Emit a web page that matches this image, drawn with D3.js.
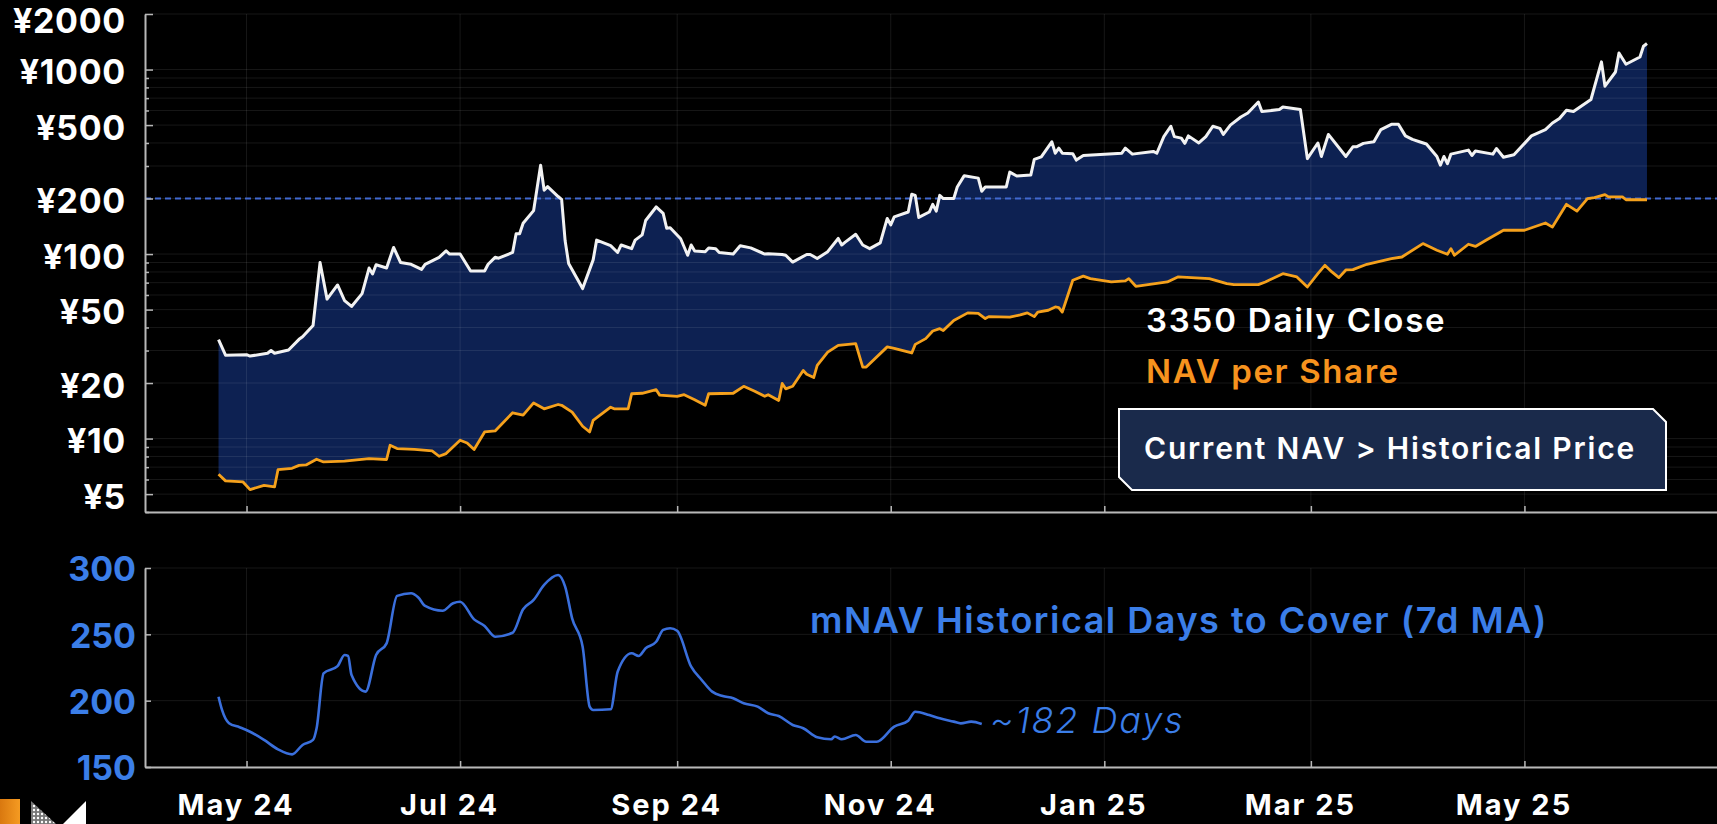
<!DOCTYPE html>
<html>
<head>
<meta charset="utf-8">
<script src="https://cdn.jsdelivr.net/npm/d3@7"></script>
<style>
  html, body { margin: 0; padding: 0; background: #000; overflow: hidden; }
  svg { display: block; }
  text { font-family: Inter, "Noto Sans", sans-serif; }
</style>
</head>
<body>
<svg id="chart" width="1717" height="824"></svg>
<script>
// Data

const closeSeries = [
  ['2024-04-23', 34.4], ['2024-04-25', 28.3], ['2024-05-01', 28.5], ['2024-05-02', 28],
  ['2024-05-07', 29], ['2024-05-08', 30], ['2024-05-09', 29], ['2024-05-13', 30.2],
  ['2024-05-16', 34.5], ['2024-05-17', 35.6], ['2024-05-20', 41], ['2024-05-22', 90],
  ['2024-05-24', 57], ['2024-05-27', 68], ['2024-05-29', 56], ['2024-05-31', 52],
  ['2024-06-03', 61], ['2024-06-05', 84], ['2024-06-06', 78], ['2024-06-07', 87.5],
  ['2024-06-10', 84], ['2024-06-12', 108.6], ['2024-06-14', 90], ['2024-06-17', 88],
  ['2024-06-20', 82.6], ['2024-06-21', 88], ['2024-06-25', 96], ['2024-06-27', 104],
  ['2024-06-28', 100], ['2024-07-01', 100], ['2024-07-04', 81], ['2024-07-08', 81],
  ['2024-07-09', 88], ['2024-07-11', 96], ['2024-07-12', 95], ['2024-07-16', 102],
  ['2024-07-17', 129], ['2024-07-18', 129], ['2024-07-19', 147], ['2024-07-22', 172],
  ['2024-07-24', 303], ['2024-07-25', 222], ['2024-07-26', 232], ['2024-07-29', 205],
  ['2024-07-30', 198], ['2024-07-31', 118], ['2024-08-01', 89], ['2024-08-05', 65],
  ['2024-08-08', 93], ['2024-08-09', 119], ['2024-08-13', 111], ['2024-08-15', 102],
  ['2024-08-16', 112], ['2024-08-19', 107], ['2024-08-20', 119], ['2024-08-22', 127],
  ['2024-08-23', 152], ['2024-08-26', 180], ['2024-08-28', 166], ['2024-08-29', 138],
  ['2024-08-30', 139], ['2024-09-02', 121], ['2024-09-04', 98.5], ['2024-09-05', 112],
  ['2024-09-06', 104], ['2024-09-09', 103], ['2024-09-10', 108], ['2024-09-12', 107],
  ['2024-09-13', 102], ['2024-09-17', 100], ['2024-09-19', 111], ['2024-09-22', 108],
  ['2024-09-26', 100], ['2024-09-27', 100.5], ['2024-10-01', 99.5], ['2024-10-02', 98.5],
  ['2024-10-04', 90.5], ['2024-10-08', 99.5], ['2024-10-09', 99.5], ['2024-10-11', 94.6],
  ['2024-10-14', 103], ['2024-10-17', 121.5], ['2024-10-18', 112], ['2024-10-19', 116],
  ['2024-10-22', 128], ['2024-10-24', 112], ['2024-10-26', 107], ['2024-10-29', 115],
  ['2024-10-31', 156], ['2024-11-01', 144], ['2024-11-02', 159], ['2024-11-06', 169],
  ['2024-11-07', 211], ['2024-11-08', 208], ['2024-11-09', 158], ['2024-11-12', 169],
  ['2024-11-13', 186], ['2024-11-14', 171], ['2024-11-15', 208], ['2024-11-16', 200],
  ['2024-11-19', 200], ['2024-11-20', 231], ['2024-11-22', 266], ['2024-11-26', 258],
  ['2024-11-27', 219], ['2024-11-28', 231], ['2024-12-04', 231], ['2024-12-05', 278],
  ['2024-12-07', 265], ['2024-12-11', 268], ['2024-12-12', 326], ['2024-12-14', 336],
  ['2024-12-17', 406], ['2024-12-18', 352], ['2024-12-19', 375], ['2024-12-20', 352],
  ['2024-12-23', 350], ['2024-12-24', 323], ['2024-12-26', 342], ['2025-01-06', 352],
  ['2025-01-07', 375], ['2025-01-09', 348], ['2025-01-15', 360], ['2025-01-16', 352],
  ['2025-01-18', 433], ['2025-01-20', 493], ['2025-01-21', 433], ['2025-01-23', 425],
  ['2025-01-24', 398], ['2025-01-25', 437], ['2025-01-28', 400], ['2025-01-30', 433],
  ['2025-02-01', 493], ['2025-02-03', 480], ['2025-02-04', 445], ['2025-02-06', 500],
  ['2025-02-09', 553], ['2025-02-11', 582], ['2025-02-14', 667], ['2025-02-15', 592],
  ['2025-02-20', 607], ['2025-02-21', 627], ['2025-02-26', 607], ['2025-02-28', 329],
  ['2025-03-03', 400], ['2025-03-04', 338], ['2025-03-06', 445], ['2025-03-11', 338],
  ['2025-03-13', 381], ['2025-03-14', 381], ['2025-03-16', 398], ['2025-03-19', 406],
  ['2025-03-21', 473], ['2025-03-24', 505], ['2025-03-26', 505], ['2025-03-28', 437],
  ['2025-03-30', 418], ['2025-04-01', 406], ['2025-04-03', 395], ['2025-04-06', 338],
  ['2025-04-07', 303], ['2025-04-08', 338], ['2025-04-09', 309], ['2025-04-10', 348],
  ['2025-04-15', 366], ['2025-04-16', 342], ['2025-04-17', 362], ['2025-04-22', 348],
  ['2025-04-23', 373], ['2025-04-25', 335], ['2025-04-28', 345], ['2025-05-03', 437],
  ['2025-05-07', 472], ['2025-05-09', 513], ['2025-05-11', 543], ['2025-05-13', 602],
  ['2025-05-15', 592], ['2025-05-20', 688], ['2025-05-23', 1100], ['2025-05-24', 812],
  ['2025-05-27', 970], ['2025-05-28', 1230], ['2025-05-30', 1068], ['2025-06-03', 1170],
  ['2025-06-04', 1337], ['2025-06-05', 1384]
]

const navSeries = [
  ['2024-04-23', 6.4], ['2024-04-25', 5.9], ['2024-04-30', 5.82], ['2024-05-02', 5.29],
  ['2024-05-06', 5.58], ['2024-05-09', 5.47], ['2024-05-10', 6.79], ['2024-05-14', 6.9],
  ['2024-05-16', 7.16], ['2024-05-18', 7.2], ['2024-05-21', 7.73], ['2024-05-23', 7.47],
  ['2024-05-29', 7.55], ['2024-06-05', 7.79], ['2024-06-10', 7.7], ['2024-06-11', 9.2],
  ['2024-06-13', 8.83], ['2024-06-18', 8.75], ['2024-06-23', 8.57], ['2024-06-25', 8.02],
  ['2024-06-27', 8.29], ['2024-07-01', 9.8], ['2024-07-03', 9.47], ['2024-07-05', 8.72],
  ['2024-07-08', 10.86], ['2024-07-11', 11], ['2024-07-16', 13.8], ['2024-07-19', 13.4],
  ['2024-07-22', 15.6], ['2024-07-25', 14.5], ['2024-07-29', 15.3], ['2024-07-30', 15.15],
  ['2024-08-02', 13.9], ['2024-08-05', 11.66], ['2024-08-07', 10.86], ['2024-08-08', 12.56],
  ['2024-08-13', 14.8], ['2024-08-14', 14.5], ['2024-08-18', 14.5], ['2024-08-19', 17.5],
  ['2024-08-22', 17.6], ['2024-08-26', 18.4], ['2024-08-27', 17.2], ['2024-09-01', 16.95],
  ['2024-09-03', 17.3], ['2024-09-06', 16.25], ['2024-09-09', 15.15], ['2024-09-10', 17.5],
  ['2024-09-17', 17.6], ['2024-09-20', 19.2], ['2024-09-23', 18.1], ['2024-09-26', 16.95],
  ['2024-09-27', 17.3], ['2024-09-30', 16.1], ['2024-10-01', 19.9], ['2024-10-02', 18.6],
  ['2024-10-04', 19.2], ['2024-10-07', 23.4], ['2024-10-08', 22.3], ['2024-10-10', 21.4],
  ['2024-10-11', 24.9], ['2024-10-14', 29.4], ['2024-10-17', 32], ['2024-10-22', 32.7],
  ['2024-10-24', 24.4], ['2024-10-25', 24.4], ['2024-10-31', 31.4], ['2024-11-02', 30.8],
  ['2024-11-07', 29.1], ['2024-11-08', 32.4], ['2024-11-11', 34.8], ['2024-11-13', 38.3],
  ['2024-11-15', 39.4], ['2024-11-16', 38.5], ['2024-11-19', 43.7], ['2024-11-23', 48],
  ['2024-11-26', 47.7], ['2024-11-28', 44.7], ['2024-11-29', 45.8], ['2024-12-05', 45.5],
  ['2024-12-08', 46.8], ['2024-12-10', 48], ['2024-12-12', 45.8], ['2024-12-13', 48.5],
  ['2024-12-16', 49.6], ['2024-12-18', 51.7], ['2024-12-19', 51.3], ['2024-12-20', 48.5],
  ['2024-12-23', 72.1], ['2024-12-26', 75.9], ['2024-12-28', 73.6], ['2025-01-03', 70.6],
  ['2025-01-07', 71.5], ['2025-01-08', 73.6], ['2025-01-10', 66.9], ['2025-01-19', 70.6],
  ['2025-01-22', 75.2], ['2025-01-31', 73.6], ['2025-02-05', 69.2], ['2025-02-07', 68.3],
  ['2025-02-14', 68.3], ['2025-02-16', 70.6], ['2025-02-21', 78.3], ['2025-02-25', 75.2],
  ['2025-02-28', 66.3], ['2025-03-03', 78.3], ['2025-03-05', 86.9], ['2025-03-07', 80],
  ['2025-03-09', 74.5], ['2025-03-11', 82], ['2025-03-13', 82.4], ['2025-03-17', 88],
  ['2025-03-24', 94.5], ['2025-03-27', 96.4], ['2025-04-02', 114], ['2025-04-06', 104.9],
  ['2025-04-09', 99.7], ['2025-04-10', 107], ['2025-04-11', 98.5], ['2025-04-15', 113],
  ['2025-04-17', 110], ['2025-04-20', 118.8], ['2025-04-25', 134.6], ['2025-05-01', 134.6],
  ['2025-05-07', 147.4], ['2025-05-09', 140], ['2025-05-13', 186], ['2025-05-16', 171],
  ['2025-05-19', 199.6], ['2025-05-21', 202], ['2025-05-24', 210], ['2025-05-25', 204],
  ['2025-05-29', 204], ['2025-05-30', 197], ['2025-06-05', 197]
]

const daysSeries = [
  ['2024-04-23', 203], ['2024-04-24', 193], ['2024-04-26', 183], ['2024-04-29', 180],
  ['2024-05-02', 176.6], ['2024-05-06', 170.4], ['2024-05-10', 163.3], ['2024-05-14', 159.5],
  ['2024-05-17', 166.6], ['2024-05-20', 170.4], ['2024-05-21', 179], ['2024-05-23', 220.6],
  ['2024-05-27', 226], ['2024-05-29', 234.4], ['2024-05-30', 233.7], ['2024-05-31', 219.3],
  ['2024-06-04', 206.8], ['2024-06-07', 234.4], ['2024-06-10', 243.2], ['2024-06-13', 279],
  ['2024-06-17', 281], ['2024-06-19', 278], ['2024-06-21', 271.4], ['2024-06-26', 267.8],
  ['2024-06-29', 273.4], ['2024-07-01', 274.6], ['2024-07-05', 261.3], ['2024-07-08', 256.3],
  ['2024-07-11', 248.2], ['2024-07-16', 251.2], ['2024-07-19', 268.9], ['2024-07-22', 275.9],
  ['2024-07-25', 287.2], ['2024-07-29', 294.7], ['2024-07-31', 285.9], ['2024-08-02', 262],
  ['2024-08-05', 240.7], ['2024-08-07', 195.5], ['2024-08-08', 193], ['2024-08-13', 193.5],
  ['2024-08-15', 221.8], ['2024-08-19', 235.7], ['2024-08-21', 233.7], ['2024-08-23', 239.5],
  ['2024-08-26', 244.4], ['2024-08-28', 253.3], ['2024-08-30', 254.6], ['2024-09-01', 252.7],
  ['2024-09-05', 225.6], ['2024-09-08', 215.6], ['2024-09-11', 206.8], ['2024-09-14', 203.5],
  ['2024-09-17', 201.8], ['2024-09-20', 198], ['2024-09-24', 195.5], ['2024-09-27', 190.5],
  ['2024-09-30', 188.4], ['2024-10-04', 181.7], ['2024-10-07', 179.2], ['2024-10-11', 172.4],
  ['2024-10-15', 170.9], ['2024-10-16', 173], ['2024-10-18', 170.9], ['2024-10-22', 174.1],
  ['2024-10-25', 169], ['2024-10-28', 169], ['2024-11-02', 180.4], ['2024-11-06', 184.9],
  ['2024-11-08', 191.7], ['2024-11-12', 189.2], ['2024-11-15', 186.7], ['2024-11-19', 184.2],
  ['2024-11-21', 182.9], ['2024-11-24', 184.2], ['2024-11-27', 182.4]
]

const priceTicks = [5, 10, 20, 50, 100, 200, 500, 1000, 2000]
const daysTicks = [150, 200, 250, 300]
const monthTicks = ['2024-05-01', '2024-07-01', '2024-09-01', '2024-11-01', '2025-01-01', '2025-03-01', '2025-05-01']
const monthLabels = ['May 24', 'Jul 24', 'Sep 24', 'Nov 24', 'Jan 25', 'Mar 25', 'May 25']
const navMarker = 200

// Scales

const parse = d3.timeParse('%Y-%m-%d')
const toPoint = ([d, v]) => ({date: parse(d), value: v})
const closePoints = closeSeries.map(toPoint)
const navPoints = navSeries.map(toPoint)
const daysPoints = daysSeries.map(toPoint)
const monthDates = monthTicks.map(parse)

const plotLeft = 145
const plotRight = 1717

const x = d3.scaleTime()
    .domain([parse('2024-04-02'), parse('2025-06-25')])
    .range([plotLeft, plotRight])

const yPrice = d3.scaleLog()
    .domain([4, 2000])
    .range([512, 14])

const yDays = d3.scaleLinear()
    .domain([150, 300])
    .range([767, 568])

const svg = d3.select('#chart')

const white = '#f2f2f2'
const orange = '#f5a11c'
const blue = '#3b7ee8'
const gridColor = 'rgba(255,255,255,0.09)'
const axisColor = '#b8b8b8'

// Top panel

const topPanel = svg.append('g')

// spread between price and NAV
const priceLine = d3.line()
    .x(d => x(d.date))
    .y(d => yPrice(d.value))

topPanel.append('path')
    .attr('d', priceLine([...closePoints, ...navPoints.slice().reverse()]) + 'Z')
    .attr('fill', '#0d2152')

// grid
topPanel.append('g')
  .selectAll('line')
  .data(yPrice.ticks())
  .join('line')
    .attr('x1', plotLeft)
    .attr('x2', plotRight)
    .attr('y1', d => yPrice(d))
    .attr('y2', d => yPrice(d))
    .attr('stroke', gridColor)
    .attr('stroke-width', 1)

topPanel.append('g')
  .selectAll('line')
  .data(monthDates)
  .join('line')
    .attr('x1', d => x(d))
    .attr('x2', d => x(d))
    .attr('y1', yPrice.range()[1])
    .attr('y2', yPrice.range()[0])
    .attr('stroke', gridColor)

// 200 yen marker
topPanel.append('line')
    .attr('x1', plotLeft)
    .attr('x2', plotRight)
    .attr('y1', yPrice(navMarker))
    .attr('y2', yPrice(navMarker))
    .attr('stroke', '#4069d0')
    .attr('stroke-width', 1.8)
    .attr('stroke-dasharray', '6 4')

topPanel.append('path')
    .datum(navPoints)
    .attr('d', priceLine)
    .attr('fill', 'none')
    .attr('stroke', orange)
    .attr('stroke-width', 2.8)
    .attr('stroke-linejoin', 'round')

topPanel.append('path')
    .datum(closePoints)
    .attr('d', priceLine)
    .attr('fill', 'none')
    .attr('stroke', white)
    .attr('stroke-width', 3)
    .attr('stroke-linejoin', 'round')

// axes
const minorTicks = yPrice.ticks().filter(v => !priceTicks.includes(v))

const yAxis = topPanel.append('g')
    .attr('transform', `translate(${plotLeft},0)`)
    .call(d3.axisLeft(yPrice)
      .tickValues(priceTicks)
      .tickFormat(d => '¥' + d)
      .tickSizeInner(-8)
      .tickSizeOuter(0)
      .tickPadding(19))

topPanel.append('g')
    .attr('transform', `translate(${plotLeft},0)`)
    .call(d3.axisLeft(yPrice)
      .tickValues(minorTicks)
      .tickFormat('')
      .tickSizeInner(-4)
      .tickSizeOuter(0))
    .call(g => g.select('.domain').remove())

topPanel.append('g')
    .attr('transform', `translate(0,${yPrice.range()[0]})`)
    .call(d3.axisBottom(x)
      .tickValues(monthDates)
      .tickFormat('')
      .tickSizeInner(-6)
      .tickSizeOuter(0))

// Bottom panel

const bottomPanel = svg.append('g')

bottomPanel.append('g')
  .selectAll('line')
  .data(daysTicks)
  .join('line')
    .attr('x1', plotLeft)
    .attr('x2', plotRight)
    .attr('y1', d => yDays(d))
    .attr('y2', d => yDays(d))
    .attr('stroke', gridColor)

bottomPanel.append('g')
  .selectAll('line')
  .data(monthDates)
  .join('line')
    .attr('x1', d => x(d))
    .attr('x2', d => x(d))
    .attr('y1', yDays.range()[1])
    .attr('y2', yDays.range()[0])
    .attr('stroke', gridColor)

bottomPanel.append('path')
    .datum(daysPoints)
    .attr('d', d3.line()
      .x(d => x(d.date))
      .y(d => yDays(d.value))
      .curve(d3.curveMonotoneX))
    .attr('fill', 'none')
    .attr('stroke', '#3a6fdc')
    .attr('stroke-width', 2.6)

const daysAxis = bottomPanel.append('g')
    .attr('transform', `translate(${plotLeft},0)`)
    .call(d3.axisLeft(yDays)
      .tickValues(daysTicks)
      .tickSizeInner(-6)
      .tickSizeOuter(0)
      .tickPadding(9))

const xAxis = bottomPanel.append('g')
    .attr('transform', `translate(0,${yDays.range()[0]})`)
    .call(d3.axisBottom(x)
      .tickValues(monthDates)
      .tickFormat((d, i) => monthLabels[i])
      .tickSizeInner(-6)
      .tickSizeOuter(0)
      .tickPadding(27))

// axis styling
svg.selectAll('.domain')
    .attr('stroke', axisColor)
    .attr('stroke-width', 2)
svg.selectAll('.tick line')
    .attr('stroke', axisColor)
    .attr('stroke-width', 1.5)

yAxis.selectAll('text')
    .attr('fill', '#fff')
    .attr('dy', d => d === 2000 ? '0.53em' : '0.42em')
    .style('font-size', '34px')
    .style('font-weight', 700)
    .style('font-family', 'Inter, sans-serif')
    .style('letter-spacing', '0.7px')

daysAxis.selectAll('text')
    .attr('fill', blue)
    .attr('dy', '0.38em')
    .style('font-size', '34px')
    .style('font-weight', 700)
    .style('font-family', 'Inter, sans-serif')

xAxis.selectAll('text')
    .attr('fill', '#fff')
    .attr('dx', -11)
    .style('font-size', '29px')
    .style('font-weight', 700)
    .style('font-family', 'Inter, sans-serif')
    .style('letter-spacing', '2px')

// Annotations

const notes = svg.append('g')
    .style('font-weight', 600)

notes.append('text')
    .attr('x', 1146)
    .attr('y', 332)
    .attr('fill', '#fff')
    .style('font-size', '33px')
    .style('letter-spacing', '1.8px')
    .text('3350 Daily Close')

notes.append('text')
    .attr('x', 1146)
    .attr('y', 383)
    .attr('fill', '#f7931e')
    .style('font-size', '33px')
    .style('letter-spacing', '1.6px')
    .text('NAV per Share')

const box = {left: 1119, top: 409, right: 1666, bottom: 490, cut: 13}
notes.append('path')
    .attr('d', `M${box.left},${box.top}H${box.right - box.cut}L${box.right},${box.top + box.cut}` +
      `V${box.bottom}H${box.left + box.cut}L${box.left},${box.bottom - box.cut}Z`)
    .attr('fill', '#1a2a4b')
    .attr('stroke', '#fff')
    .attr('stroke-width', 2)

notes.append('text')
    .attr('x', 1144)
    .attr('y', 459)
    .attr('fill', '#fff')
    .style('font-size', '30px')
    .style('letter-spacing', '1.8px')
    .text('Current NAV > Historical Price')

notes.append('text')
    .attr('x', 810)
    .attr('y', 633)
    .attr('fill', blue)
    .style('font-size', '36px')
    .style('letter-spacing', '1.5px')
    .text('mNAV Historical Days to Cover (7d MA)')

notes.append('text')
    .attr('x', 990)
    .attr('y', 733)
    .attr('fill', blue)
    .style('font-size', '36px')
    .style('font-weight', 300)
    .style('font-style', 'italic')
    .style('letter-spacing', '1.9px')
    .text('~182 Days')

// Logo

const defs = svg.append('defs')
const grad = defs.append('linearGradient')
    .attr('id', 'logoOrange')
    .attr('x1', 0).attr('x2', 1)
grad.append('stop').attr('offset', 0).attr('stop-color', '#d9780f')
grad.append('stop').attr('offset', 1).attr('stop-color', '#f59b22')

const hatch = defs.append('pattern')
    .attr('id', 'hatch')
    .attr('width', 4)
    .attr('height', 4)
    .attr('patternUnits', 'userSpaceOnUse')
hatch.append('rect').attr('width', 4).attr('height', 4).attr('fill', '#777')
hatch.append('circle').attr('cx', 2).attr('cy', 2).attr('r', 1.2).attr('fill', '#fff')

const logo = svg.append('g')
logo.append('rect')
    .attr('x', 0).attr('y', 799)
    .attr('width', 20).attr('height', 25)
    .attr('fill', 'url(#logoOrange)')
logo.append('path')
    .attr('d', 'M31,801L56,824H31Z')
    .attr('fill', 'url(#hatch)')
logo.append('path')
    .attr('d', 'M86,801V824H63Z')
    .attr('fill', '#fff')
</script>
</body>
</html>
